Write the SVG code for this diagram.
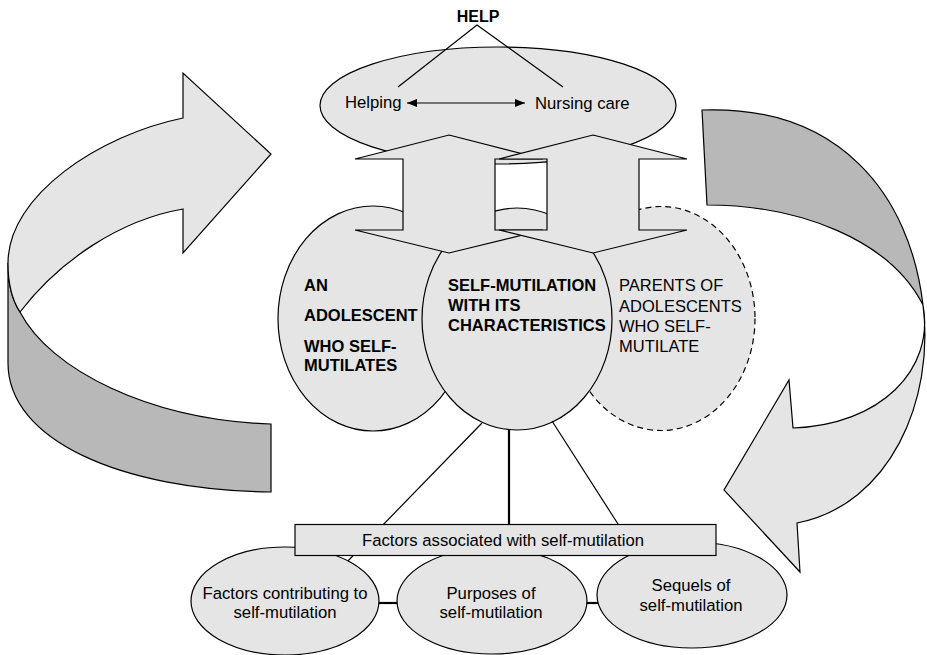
<svg xmlns="http://www.w3.org/2000/svg" width="927" height="655" viewBox="0 0 927 655">
<defs>
<marker id="ah" viewBox="0 0 10 8" refX="10" refY="4" markerWidth="10" markerHeight="8" markerUnits="userSpaceOnUse" orient="auto-start-reverse">
<path d="M0,0 L10,4 L0,8 Z" fill="#000"/>
</marker>
</defs>
<style>
.shape{fill:#e5e5e5;stroke:#000;stroke-width:1.2}
.dark{fill:#b8b8b8;stroke:#000;stroke-width:1.2}
.dash{stroke-dasharray:6 4}
.ln{fill:none;stroke:#000;stroke-width:1.2}
.thick{fill:none;stroke:#000;stroke-width:2.2}
text{font-family:"Liberation Sans",Arial,sans-serif;fill:#000}
.t16{font-size:16.7px}
.hb{font-size:16px}
.big{font-size:16.5px}
.b{font-weight:bold}
.mid{text-anchor:middle}
</style>
<rect width="927" height="655" fill="#fff"/>

<g id="cycle-left">
<path class="dark" d="M8,263 L8,363 C8,440 120,490 271,492 L271,424 C150,420 50,370 20,312 C12,300 8,285 8,263 Z"/>
<path class="shape" d="M183,118 C100,135 8,195 8,263 C8,285 12,300 20,312 C60,260 120,220 183,209 L183,253 L271,154 L183,73 Z"/>
</g>

<g id="cycle-right">
<path class="dark" d="M702,110 C840,105 910,195 923,305 C890,240 800,205 707,205 Z"/>
<path class="shape" d="M923,305 C935,400 890,505 797,523 L800,572 L724,490 L789,380 L793,428 C880,425 935,370 923,305 Z"/>
</g>

<g id="help">
<ellipse class="shape" cx="498" cy="105.5" rx="178" ry="58.5"/>
<text class="hb b mid" x="478" y="22">HELP</text>
<polyline class="ln" points="398,87 477,25 563,87"/>
<text class="t16" x="345" y="108">Helping</text>
<text class="t16" x="535" y="109">Nursing care</text>
<line class="ln" x1="407" y1="103" x2="525" y2="103" marker-start="url(#ah)" marker-end="url(#ah)"/>
</g>

<g id="adolescent">
<ellipse class="shape" cx="373" cy="318.5" rx="95" ry="112.5"/>
<text class="big b" x="304" y="291">AN</text>
<text class="big b" x="304" y="321">ADOLESCENT</text>
<text class="big b" x="304" y="352">WHO SELF-</text>
<text class="big b" x="304" y="371">MUTILATES</text>
</g>

<g id="parents">
<ellipse class="shape dash" cx="661" cy="318.5" rx="94" ry="112"/>
<text class="big" x="619" y="291">PARENTS OF</text>
<text class="big" x="619" y="312">ADOLESCENTS</text>
<text class="big" x="619" y="332">WHO SELF-</text>
<text class="big" x="619" y="352">MUTILATE</text>
</g>

<g id="selfmutilation">
<ellipse class="shape" cx="517" cy="319" rx="95" ry="111"/>
<text class="big b" x="448" y="291">SELF-MUTILATION</text>
<text class="big b" x="448" y="311">WITH ITS</text>
<text class="big b" x="448" y="331">CHARACTERISTICS</text>
</g>

<g id="arrow-left">
<polygon class="shape" points="449,135 543,159 495,159 495,230 543,230 449,253 355,230 403,230 403,159 355,159"/>
</g>
<g id="arrow-right">
<polygon class="shape" points="593,135 687,159 639,159 639,230 687,230 593,253 499,230 547,230 547,159 499,159"/>
</g>

<g id="connectors">
<line class="ln" x1="482" y1="423" x2="345" y2="564"/>
<line class="thick" x1="509" y1="430" x2="509" y2="524"/>
<line class="ln" x1="552" y1="421" x2="618" y2="524"/>
<line class="thick" x1="378" y1="603" x2="399" y2="603"/>
<line class="thick" x1="586" y1="603" x2="599" y2="603"/>
</g>

<g id="contributing">
<ellipse class="shape" cx="285" cy="601" rx="94" ry="54"/>
<text class="t16 mid" x="285" y="599">Factors contributing to</text>
<text class="t16 mid" x="285" y="618">self-mutilation</text>
</g>

<g id="purposes">
<ellipse class="shape" cx="492" cy="601" rx="95" ry="53"/>
<text class="t16 mid" x="491" y="599">Purposes of</text>
<text class="t16 mid" x="491" y="618">self-mutilation</text>
</g>

<g id="sequels">
<ellipse class="shape" cx="692" cy="595" rx="95" ry="53"/>
<text class="t16 mid" x="691" y="591">Sequels of</text>
<text class="t16 mid" x="691" y="611">self-mutilation</text>
</g>

<g id="factors">
<rect class="shape" x="295" y="524.5" width="421" height="31"/>
<text class="t16 mid" x="503" y="546">Factors associated with self-mutilation</text>
</g>
</svg>
